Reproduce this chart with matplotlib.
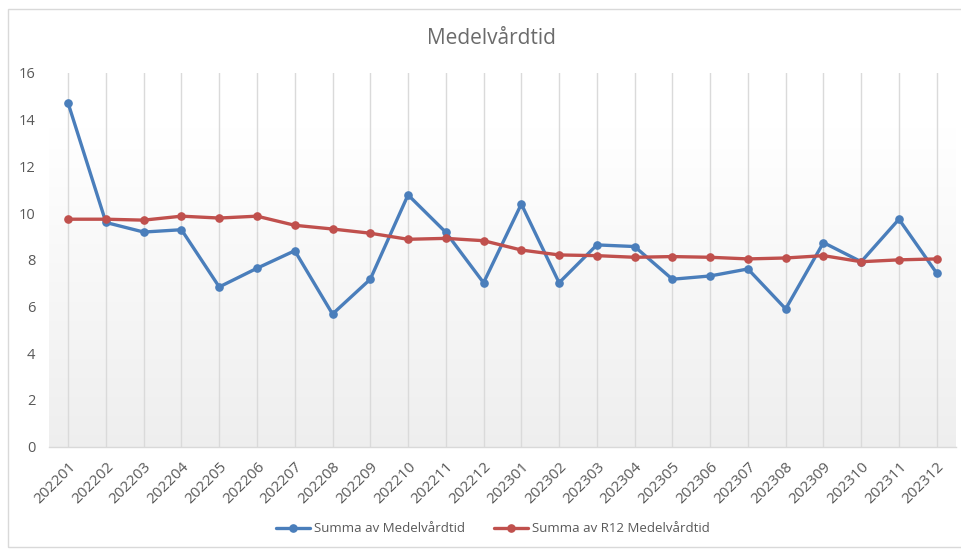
import matplotlib
matplotlib.use("Agg")
import matplotlib.pyplot as plt
import numpy as np
from matplotlib.patches import Rectangle

categories = ["202201", "202202", "202203", "202204", "202205", "202206",
              "202207", "202208", "202209", "202210", "202211", "202212",
              "202301", "202302", "202303", "202304", "202305", "202306",
              "202307", "202308", "202309", "202310", "202311", "202312"]
medel = [14.7, 9.6, 9.19, 9.29, 6.84, 7.64, 8.39, 5.68, 7.17, 10.78, 9.18, 7.02,
         10.39, 7.02, 8.64, 8.57, 7.17, 7.31, 7.61, 5.90, 8.74, 7.92, 9.74, 7.43]
r12 = [9.74, 9.74, 9.70, 9.87, 9.79, 9.87, 9.48, 9.32, 9.14, 8.88, 8.92, 8.82,
       8.42, 8.21, 8.18, 8.11, 8.14, 8.11, 8.04, 8.08, 8.18, 7.92, 8.00, 8.04]
yticks = [0, 2, 4, 6, 8, 10, 12, 14, 16]
title = "Medelvårdtid"
labels = ["Summa av Medelvårdtid", "Summa av R12 Medelvårdtid"]

plt.rcParams['font.family'] = ['Open Sans', 'DejaVu Sans']

W, H = 961, 549
fig = plt.figure(figsize=(W / 100, H / 100), dpi=100)
fig.patch.set_facecolor("white")

# chart border
fig.patches.append(Rectangle((8 / W, (H - 547) / H), 1.2, (547 - 9) / H,
                             transform=fig.transFigure, fill=False,
                             edgecolor="#d9d9d9", linewidth=1.0))

left, right = 49.3 / W, 955.6 / W
bottom, top = (H - 446.7) / H, (H - 73) / H
ax = fig.add_axes([left, bottom, right - left, top - bottom])

x = np.arange(len(categories))

# gradient background: white at top, light grey at bottom
t = np.linspace(0.0, 1.0, 256)            # 0 = bottom, 1 = top
g = np.clip(t / 0.85, 0, 1)
shade = 0.935 + (1.0 - 0.935) * g
img = np.repeat(shade[:, None, None], 3, axis=2)
ax.imshow(img, extent=[-0.5, len(categories) - 0.5, 0, 16], aspect="auto",
          origin="lower", zorder=0, interpolation="bicubic")
ax.set_xlim(-0.5, len(categories) - 0.5)
ax.set_ylim(0, 16)

for xi in x:
    ax.axvline(xi, color="#dadada", linewidth=1.0, zorder=1)

blue = "#4a7ebb"
red = "#c0504d"
ax.plot(x, medel, color=blue, linewidth=2.4, marker="o", markersize=5.2,
        label=labels[0], zorder=3, solid_capstyle="round")
ax.plot(x, r12, color=red, linewidth=2.4, marker="o", markersize=5.2,
        label=labels[1], zorder=4, solid_capstyle="round")

for s in ["left", "right", "top"]:
    ax.spines[s].set_visible(False)
ax.spines["bottom"].set_color("#d9d9d9")
ax.spines["bottom"].set_linewidth(1.0)

ax.set_yticks(yticks)
ax.set_yticklabels([str(v) for v in yticks])
ax.tick_params(axis="y", length=0, pad=10, labelsize=10.5, labelcolor="#595959")
ax.set_xticks(x)
ax.set_xticklabels(categories, rotation=45, ha="right", va="top",
                   rotation_mode="anchor")
ax.tick_params(axis="x", length=0, pad=9, labelsize=11, labelcolor="#595959")

fig.text(491 / W, (H - 38) / H, title, ha="center", va="center",
         fontsize=15, color="#6b6b6b")

fig.legend(loc="center", bbox_to_anchor=(493 / W, (H - 529) / H), ncol=2,
           frameon=False, fontsize=9.5, labelcolor="#595959", handlelength=2.6,
           handletextpad=0.3, columnspacing=2.2)

fig.savefig("out.png", dpi=100)
